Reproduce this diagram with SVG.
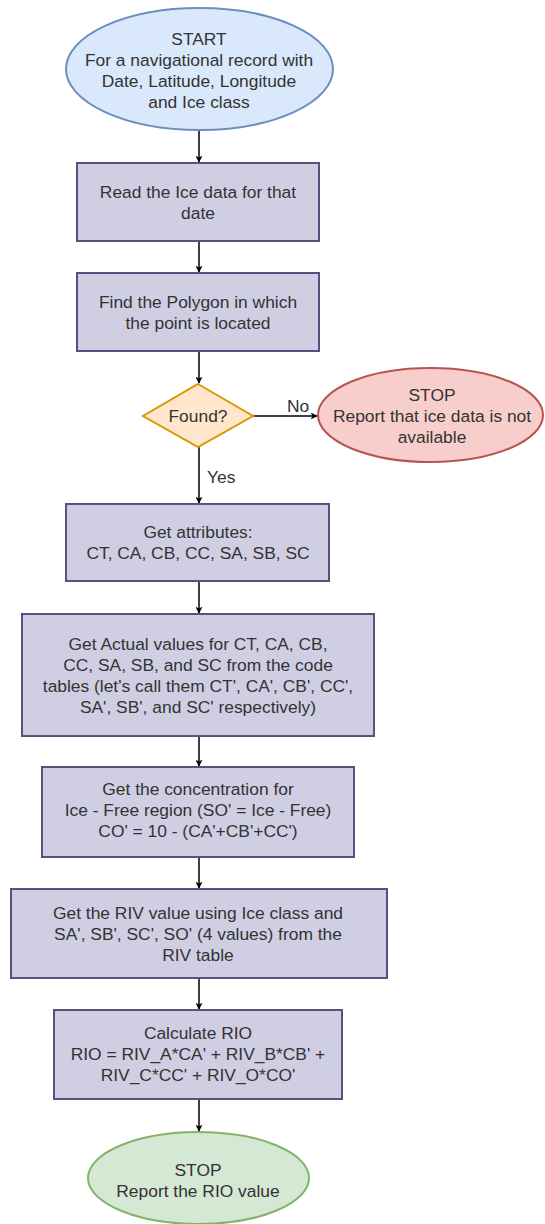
<svg xmlns="http://www.w3.org/2000/svg" width="545" height="1224" viewBox="0 0 545 1224">
<defs>
<style>
text{font-family:"Liberation Sans",Arial,Helvetica,sans-serif;font-size:17.4px;fill:#333333;text-anchor:middle}
.proc{fill:#d0cee2;stroke:#56517e;stroke-width:2}
.start{fill:#dae8fc;stroke:#6c8ebf;stroke-width:2}
.stopr{fill:#f8cecc;stroke:#b85450;stroke-width:2}
.stopg{fill:#d5e8d4;stroke:#82b366;stroke-width:2}
.dec{fill:#ffe6cc;stroke:#d79b00;stroke-width:2}
.edge{fill:none;stroke:#000000;stroke-width:1.5;marker-end:url(#arr)}
.lbl{text-anchor:start}
</style>
<marker id="arr" viewBox="0 0 10 10" refX="9" refY="5" markerWidth="7" markerHeight="7" markerUnits="userSpaceOnUse" orient="auto">
<path d="M0,0 L10,5 L0,10 L2.5,5 z" fill="#000000"/>
</marker>
</defs>

<g id="connectors">
<path class="edge" d="M199,130 L199,162"/>
<path class="edge" d="M199,241 L199,272"/>
<path class="edge" d="M199,351 L199,383"/>
<path class="edge" d="M253,416 L317,416"/>
<path class="edge" d="M199,447 L199,503"/>
<path class="edge" d="M199,581 L199,613"/>
<path class="edge" d="M199,736 L199,766"/>
<path class="edge" d="M199,857 L199,888"/>
<path class="edge" d="M199,978 L199,1009"/>
<path class="edge" d="M199,1099 L199,1131"/>
<text class="lbl" x="287" y="412">No</text>
<text class="lbl" x="207" y="483">Yes</text>
</g>

<g id="start">
<ellipse class="start" cx="199.5" cy="69" rx="133.5" ry="61"/>
<text x="199" y="45">START</text>
<text x="199" y="66">For a navigational record with</text>
<text x="199" y="87">Date, Latitude, Longitude</text>
<text x="199" y="108">and Ice class</text>
</g>

<g id="read">
<rect class="proc" x="77" y="163" width="242" height="78"/>
<text x="198" y="198">Read the Ice data for that</text>
<text x="198" y="219">date</text>
</g>

<g id="find">
<rect class="proc" x="77" y="273" width="242" height="78"/>
<text x="198" y="308">Find the Polygon in which</text>
<text x="198" y="329">the point is located</text>
</g>

<g id="found">
<polygon class="dec" points="198,384 253,416 198,447 143,416"/>
<text x="198" y="422">Found?</text>
</g>

<g id="stop-na">
<ellipse class="stopr" cx="430.5" cy="415" rx="112.5" ry="47"/>
<text x="432" y="401">STOP</text>
<text x="432" y="422">Report that ice data is not</text>
<text x="432" y="443">available</text>
</g>

<g id="attrs">
<rect class="proc" x="66" y="504" width="263" height="77"/>
<text x="198" y="538">Get attributes:</text>
<text x="198" y="559">CT, CA, CB, CC, SA, SB, SC</text>
</g>

<g id="actual">
<rect class="proc" x="22" y="614" width="352" height="122"/>
<text x="198" y="650">Get Actual values for CT, CA, CB,</text>
<text x="198" y="671">CC, SA, SB, and SC from the code</text>
<text x="198" y="692">tables (let's call them CT', CA', CB', CC',</text>
<text x="198" y="713">SA', SB', and SC' respectively)</text>
</g>

<g id="conc">
<rect class="proc" x="42" y="767" width="312" height="90"/>
<text x="198" y="795">Get the concentration for</text>
<text x="198" y="816">Ice - Free region (SO' = Ice - Free)</text>
<text x="198" y="837">CO' = 10 - (CA'+CB'+CC')</text>
</g>

<g id="riv">
<rect class="proc" x="11" y="889" width="376" height="89"/>
<text x="198" y="919">Get the RIV value using Ice class and</text>
<text x="198" y="940">SA', SB', SC', SO' (4 values) from the</text>
<text x="198" y="961">RIV table</text>
</g>

<g id="rio">
<rect class="proc" x="54" y="1010" width="288" height="89"/>
<text x="198" y="1039">Calculate RIO</text>
<text x="198" y="1060">RIO = RIV_A*CA' + RIV_B*CB' +</text>
<text x="198" y="1081">RIV_C*CC' + RIV_O*CO'</text>
</g>

<g id="stop-rio">
<ellipse class="stopg" cx="198.5" cy="1178" rx="110.5" ry="46"/>
<text x="198" y="1176">STOP</text>
<text x="198" y="1197">Report the RIO value</text>
</g>
</svg>
